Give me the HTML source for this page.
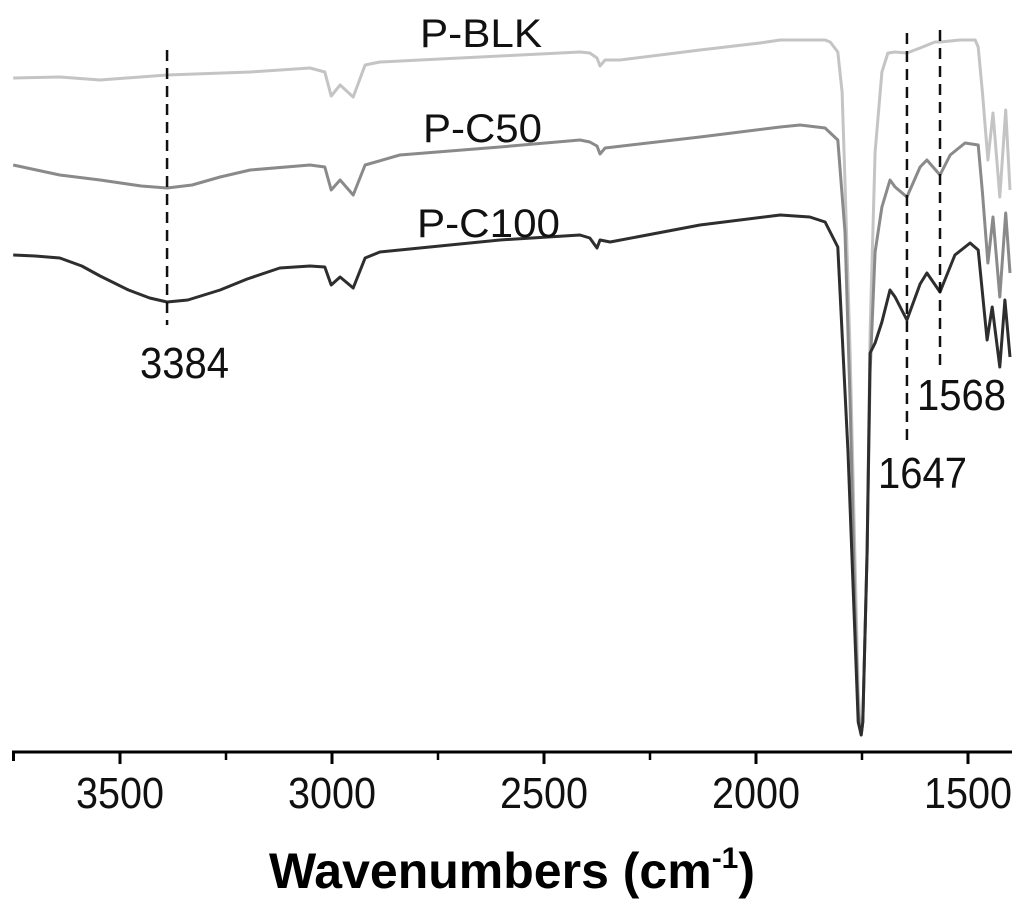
<!DOCTYPE html>
<html><head><meta charset="utf-8"><style>
html,body{margin:0;padding:0;background:#fff;width:1024px;height:914px;overflow:hidden}
svg text{font-family:"Liberation Sans",Arial,sans-serif}
</style></head><body>
<svg id="chart" width="1024" height="914" viewBox="0 0 1024 914" xmlns="http://www.w3.org/2000/svg"></svg>
<script>
const tickValues = [3500, 3000, 2500, 2000, 1500];
const tickLabels = ["3500", "3000", "2500", "2000", "1500"];
const minorTicks = [3250, 2750, 2250, 1750];
const seriesNames = ["P-BLK", "P-C50", "P-C100"];
const blkWave = [3752,3642,3547,3389,3193,3052,3017,3002,2981,2950,2922,2887,2792,2604,2415,2392,2375,2368,2356,2321,2132,1991,1943,1896,1837,1825,1807,1797,1790,1778,1767,1759,1752,1748,1738,1731,1719,1703,1689,1672,1644,1613,1578,1566,1542,1519,1483,1476,1466,1453,1441,1425,1411,1401];
const blkVal = [674,675,672,677,680,684,680,656,667,655,687,690,692,696,700,699,694,686,692,692,702,709,712,712,712,710,700,660,570,400,200,60,17,30,200,420,600,680,699,700,699,704,710,710,711,712,712,705,660,592,639,555,642,562];
const c50Wave = [3752,3642,3547,3450,3389,3330,3264,3193,3052,3017,3002,2981,2950,2922,2840,2604,2415,2392,2375,2368,2356,2132,1943,1896,1837,1807,1790,1778,1767,1759,1752,1748,1738,1731,1719,1703,1684,1672,1644,1613,1597,1566,1542,1507,1476,1466,1453,1441,1425,1411,1401];
const c50Val = [587,577,572,566,564,567,575,582,587,585,562,572,557,587,597,605,612,610,606,598,604,615,625,627,624,612,520,350,150,40,17,30,200,380,500,545,572,565,555,585,592,577,597,609,607,560,489,535,455,539,479];
const c100Wave = [3752,3700,3642,3590,3547,3480,3430,3389,3340,3264,3200,3123,3052,3017,3002,2981,2950,2922,2887,2840,2604,2415,2392,2375,2368,2344,2132,1943,1873,1837,1807,1783,1767,1759,1752,1748,1738,1731,1719,1703,1684,1672,1644,1613,1597,1566,1531,1495,1476,1455,1443,1425,1413,1401];
const c100Val = [497,496,494,486,476,462,454,450,452,462,473,484,486,485,467,475,464,494,500,502,512,517,514,504,512,510,527,537,535,530,505,300,120,30,17,30,200,399,409,430,462,455,432,468,479,460,497,509,502,412,445,385,452,395];
const markerWaves = [3389, 1644, 1566];
const markerLabels = ["3384", "1647", "1568"];

const NS = "http://www.w3.org/2000/svg";
const svg = document.getElementById("chart");
const AX_Y = 752;
function xs(w){ return 120 + (3500 - w) * 0.424; }
function ys(v){ return AX_Y - v; }
function mk(tag, attrs, parent){ const e=document.createElementNS(NS,tag); for(const k in attrs) e.setAttribute(k,attrs[k]); (parent||svg).appendChild(e); return e; }

const colors = ["#c4c4c4", "#8a8a8a", "#2e2e2e"];
const waves = [blkWave, c50Wave, c100Wave];
const vals = [blkVal, c50Val, c100Val];
const sNames = ["series-p-blk", "series-p-c50", "series-p-c100"];
for (let s = 0; s < 3; s++) {
  let d = "";
  waves[s].forEach((w, i) => { d += (i ? "L" : "M") + xs(w).toFixed(1) + " " + ys(vals[s][i]).toFixed(1); });
  const p = mk("path", {d: d, fill: "none", stroke: colors[s], "stroke-width": 3, "stroke-linejoin": "round"});
  
  
}
const lblPos = [[420, 47], [423, 142], [417, 237]];
const lblW = [122, 119, 143];
const lblNames = ["label-p-blk", "label-p-c50", "label-p-c100"];
seriesNames.forEach((n, i) => {
  const t = mk("text", {x: lblPos[i][0], y: lblPos[i][1], "font-size": 40, fill: "#111", textLength: lblW[i], lengthAdjust: "spacingAndGlyphs"});
  t.textContent = n;
  
  
});
const mTop = [50, 33, 30], mBot = [325, 445, 370];
const mLblPos = [[140, 378], [878, 488], [917, 410]];
markerWaves.forEach((w, i) => {
  const l = mk("line", {x1: xs(w), x2: xs(w), y1: mTop[i], y2: mBot[i], stroke: "#111", "stroke-width": 2.5, "stroke-dasharray": "11 7"});
  
  
  const t = mk("text", {x: mLblPos[i][0], y: mLblPos[i][1], "font-size": 44, fill: "#111", textLength: 89, lengthAdjust: "spacingAndGlyphs"});
  t.textContent = markerLabels[i];
  
  
});
const ax = mk("line", {x1: 12, x2: 1012, y1: AX_Y, y2: AX_Y, stroke: "#000", "stroke-width": 3});


const edge = mk("line", {x1: 13.5, x2: 13.5, y1: AX_Y, y2: AX_Y + 9, stroke: "#000", "stroke-width": 3});


tickValues.forEach((v, i) => {
  const t = mk("line", {x1: xs(v), x2: xs(v), y1: AX_Y, y2: AX_Y + 12, stroke: "#000", "stroke-width": 3});
  
  
  const tx = mk("text", {x: xs(v) - 44, y: 808, "font-size": 44, fill: "#111", textLength: 88, lengthAdjust: "spacingAndGlyphs"});
  tx.textContent = tickLabels[i];
  
  
});
minorTicks.forEach(v => {
  const t = mk("line", {x1: xs(v), x2: xs(v), y1: AX_Y, y2: AX_Y + 8, stroke: "#000", "stroke-width": 2.5});
  
  
});
const title = mk("text", {x: 512, y: 888, "font-size": 50, "font-weight": "bold", "text-anchor": "middle", fill: "#000"});
title.innerHTML = 'Wavenumbers (cm<tspan dy="-20" font-size="30">-1</tspan><tspan dy="20">)</tspan>';


</script>
</body></html>
